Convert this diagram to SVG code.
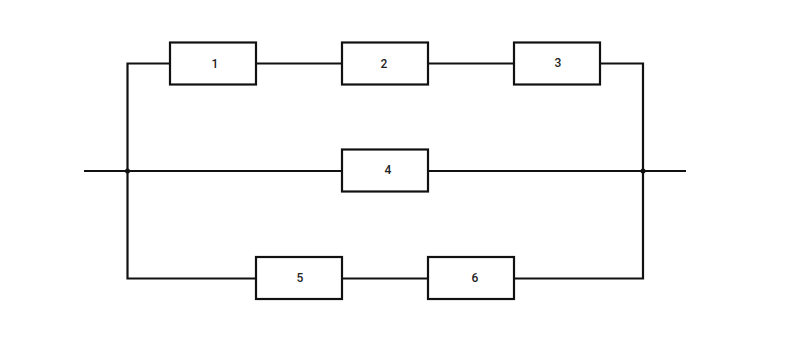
<svg xmlns="http://www.w3.org/2000/svg" width="800" height="356" viewBox="0 0 800 356">
<style>
.box{fill:#fff;stroke:#111;stroke-width:2.2}
.w{fill:none;stroke:#111;stroke-width:2.2}
.t{font-family:Roboto,"Liberation Sans",sans-serif;font-size:12px;font-weight:500;fill:#222;text-anchor:middle;dominant-baseline:central}
</style>
<rect width="800" height="356" fill="#fff"/>
<g id="connectors">
<path class="w" d="M84 171H686"/>
<path class="w" d="M170 63.5H127.5V278.5H256"/>
<path class="w" d="M256 63.5H342M428 63.5H514"/>
<path class="w" d="M600 63.5H643V278.5H514"/>
<path class="w" d="M342 278.5H428"/>
<circle cx="127.5" cy="171" r="2.5" fill="#111"/>
<circle cx="643" cy="171" r="2.5" fill="#111"/>
</g>
<g id="n1"><rect class="box" x="170" y="42.5" width="86" height="42"/><text class="t" x="215" y="63.5">1</text></g>
<g id="n2"><rect class="box" x="342" y="42.5" width="86" height="42"/><text class="t" x="384" y="64">2</text></g>
<g id="n3"><rect class="box" x="514" y="42.5" width="86" height="42"/><text class="t" x="558" y="63">3</text></g>
<g id="n4"><rect class="box" x="342" y="149.5" width="86" height="42"/><text class="t" x="388" y="170">4</text></g>
<g id="n5"><rect class="box" x="256" y="257" width="86" height="42"/><text class="t" x="300" y="278">5</text></g>
<g id="n6"><rect class="box" x="428" y="257" width="86" height="42"/><text class="t" x="475" y="278">6</text></g>
</svg>
